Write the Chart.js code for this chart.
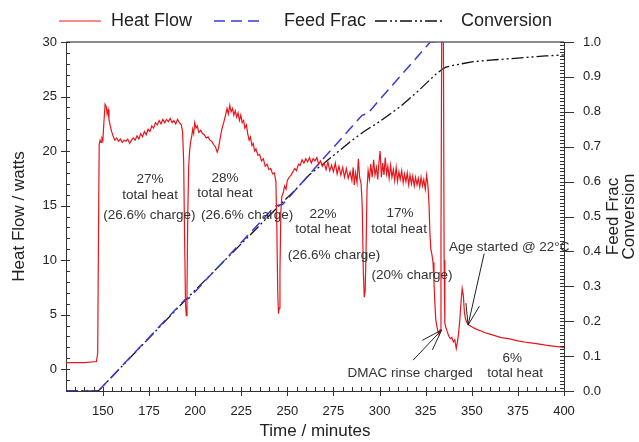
<!DOCTYPE html>
<html>
<head>
<meta charset="utf-8">
<script src="https://cdn.jsdelivr.net/npm/chart.js@4.4.1/dist/chart.umd.min.js"></script>
<style>
html,body{margin:0;padding:0;background:#fff;}
#wrap{width:639px;height:442px;}
</style>
</head>
<body>
<div id="wrap"><canvas id="c" width="639" height="442"></canvas></div>
<script>
// ---------- DATA ----------
const seriesNames = ['Heat Flow', 'Feed Frac', 'Conversion'];
const xTicks = [150, 175, 200, 225, 250, 275, 300, 325, 350, 375, 400];
const yLeftTicks = [0, 5, 10, 15, 20, 25, 30];
const yRightTicks = [0.0, 0.1, 0.2, 0.3, 0.4, 0.5, 0.6, 0.7, 0.8, 0.9, 1.0];

const heatTime = [130,140,146.5,147.2,147.6,148,148.5,149,149.5,150,150.5,151.2,151.8,152.3,152.8,153.3,154,154.7,155.5,156.5,157.5,158.5,159.5,160.5,161.5,162.5,163.5,164.5,165.5,166.5,167.5,168.5,169.5,170.5,171.5,172.5,173.5,174.5,175.5,176.5,177.5,178.5,179.5,180.5,181.5,182.5,183.5,184.5,185.5,186.5,187.5,188.5,189.5,190.5,191.5,192.5,193.2,193.8,194.3,194.8,195.2,195.6,196,196.5,197,197.5,198,198.7,199.2,199.8,200.5,201.2,202,203,204,205,206,207,208,209,210,211,212,212.6,213.5,214.5,215.5,216.5,217.3,218,218.8,219.5,220.3,221,221.8,222.5,223.3,224,224.8,225.5,226.3,227,227.8,228.5,229.3,230,230.8,231.5,232.3,233,234,235,236,237,238,239,240,241,242,243,243.8,244.3,244.8,245.2,245.6,246,246.5,247,247.8,248.5,249.3,250,251,252,253,254,255,256,257,258,259,260,261,262,263,264,265,266,267,268,269,270,271,272,273,274,275,276,277,278,279,280,281,282,283,284,285,285.7,286.3,287,287.8,288.5,289.2,290,290.6,291.2,291.7,292.2,292.7,293.2,293.8,294.5,295.2,296,296.8,297.5,298.3,299,299.7,300.3,301,301.7,302.4,303.1,303.8,304.5,305.2,306,306.7,307.5,308.2,309,309.7,310.5,311.2,312,312.8,313.5,314.3,315,315.8,316.5,317.3,318,318.8,319.5,320.3,321,321.8,322.5,323.3,324,324.8,325.5,326.2,326.8,327.3,327.8,328.4,329,329.5,330,330.5,331,331.6,332.2,332.8,333.3,333.7,334.6,335,335.4,336,336.8,337.6,338.4,339.2,340,340.8,341.6,342.3,342.9,343.5,344.2,344.8,345.4,346,346.6,347.3,348,350,352,355,358,362,366,370,375,380,385,390,395,398,400];
const heatFlow = [0.6,0.6,0.7,1.5,12,20.6,21,20.8,21.2,21,22.5,24.3,24.1,23.4,23.8,22.9,22.3,21.8,21.4,21.0,21.2,20.9,21.1,20.8,21.0,20.9,21.1,20.7,21.0,21.2,21.0,21.4,21.1,21.6,21.3,21.8,21.5,22.0,21.8,22.3,22.1,22.6,22.4,22.8,22.5,22.9,22.6,22.9,22.7,23.0,22.6,22.8,22.5,22.9,22.6,22.4,21.8,19,12,6,4.9,7,14,18.5,20,20.8,21.2,22.0,21.6,22.6,22.1,22.3,21.7,21.9,21.6,21.5,21.2,21.3,21.0,20.9,20.6,20.4,19.9,20.2,21.1,22.0,22.6,23.3,23.9,23.4,24.2,23.6,23.9,23.3,23.7,23.1,23.5,22.8,23.3,22.6,22.8,22.1,22.4,21.6,21.0,21.3,20.5,20.7,20.0,20.2,19.6,19.7,19.1,19.3,18.6,18.8,18.3,18.4,17.9,18.0,17.2,13,7,5.1,5.6,9,14.5,15.8,16.2,16.8,16.5,17.3,17.6,17.8,18.1,18.4,18.2,18.8,18.7,19.2,18.9,19.3,19.0,19.4,18.9,19.3,19.1,19.4,18.8,19.1,18.6,18.9,18.3,19.0,18.2,18.7,18.1,18.9,17.9,18.6,17.8,18.5,17.6,18.4,17.5,18.1,17.3,18.5,16.9,18.0,17.1,19.3,17.6,17.0,15,9,6.6,7.2,11,16.5,18.2,17.4,18.8,17.6,19.2,17.8,18.5,17.4,19.0,20.0,17.6,18.9,17.8,19.4,17.9,18.6,17.5,18.7,17.6,18.3,17.3,18.5,17.2,18.1,17.4,18.2,17.1,17.9,17.2,18.0,16.9,17.8,17.0,17.7,16.8,17.6,16.9,17.5,16.7,17.6,16.8,17.4,16.5,17.8,16.9,15.2,12.5,11.0,10.5,9.8,8.0,6.0,4.5,4.0,3.5,3.2,3.6,12,31,31,10,4.2,3.8,3.4,3.0,2.8,2.9,2.5,2.7,1.9,2.6,3.4,4.5,6.2,7.4,6.8,5.2,4.6,4.3,4.1,3.9,3.7,3.5,3.3,3.1,2.9,2.8,2.6,2.45,2.35,2.2,2.1,2.05,2.0];

const feedTime = [130, 147.5, 194.5, 196.5, 243.5, 247.5, 290.5, 293.5, 327.5, 334.5];
const feedFrac = [0, 0, 0.262, 0.265, 0.53, 0.535, 0.79, 0.795, 1.0, 1.0];

const convTime = [130, 147.5, 195, 245, 255, 262, 269.5, 285, 292, 300, 311, 320, 327, 331, 334, 336, 340, 350, 360, 375, 390, 400];
const conversion = [0, 0, 0.262, 0.528, 0.58, 0.62, 0.651, 0.718, 0.745, 0.772, 0.814, 0.855, 0.89, 0.91, 0.922, 0.928, 0.933, 0.943, 0.948, 0.954, 0.96, 0.963];

// annotation texts anchored in data coordinates (time, heat flow)
const notes = [
  {t: 175.6, v: 17.4, text: '27%'},
  {t: 175.6, v: 15.9, text: 'total heat'},
  {t: 175.2, v: 14.1, text: '(26.6% charge)'},
  {t: 216.2, v: 17.5, text: '28%'},
  {t: 216.2, v: 16.1, text: 'total heat'},
  {t: 228.2, v: 14.1, text: '(26.6% charge)'},
  {t: 269.4, v: 14.2, text: '22%'},
  {t: 269.4, v: 12.8, text: 'total heat'},
  {t: 275.3, v: 10.4, text: '(26.6% charge)'},
  {t: 311.1, v: 14.3, text: '17%'},
  {t: 310.6, v: 12.8, text: 'total heat'},
  {t: 317.6, v: 8.6, text: '(20% charge)'},
  {t: 337.7, v: 11.2, text: 'Age started @ 22°C', align: 'left'},
  {t: 316.6, v: -0.37, text: 'DMAC rinse charged'},
  {t: 371.9, v: 1.0, text: '6%'},
  {t: 373.5, v: -0.37, text: 'total heat'}
];
const arrows = [
  {t0: 356.7, v0: 10.6, t1: 348.0, v1: 4.05},
  {t0: 318.2, v0: 0.83, t1: 333.7, v1: 3.6}
];

// ---------- CHART ----------
const FONT = "'Liberation Sans', Arial, Helvetica, sans-serif";
const TXT = '#222';
const legendSlots = [{x0: 59, x1: 101, tx: 111}, {x0: 214, x1: 264, tx: 284}, {x0: 375, x1: 442, tx: 461}];

const decor = {
  id: 'decor',
  afterDatasetsDraw(chart) {
    const {ctx, chartArea: a, scales} = chart;
    const xs = scales.x, yl = scales.y, yr = scales.y1;
    ctx.save();
    // top frame line
    ctx.strokeStyle = '#666';
    ctx.lineWidth = 1.5;
    ctx.beginPath(); ctx.moveTo(a.left, a.top); ctx.lineTo(a.right, a.top); ctx.stroke();
    ctx.strokeStyle = '#333';
    ctx.lineWidth = 1;
    // x ticks
    for (let v = 130; v <= 400; v += 5) {
      const px = Math.round(xs.getPixelForValue(v)) + 0.5;
      ctx.beginPath();
      if (xTicks.includes(v)) { ctx.moveTo(px, a.bottom - 4); ctx.lineTo(px, a.bottom + 5); }
      else { ctx.moveTo(px, a.bottom); ctx.lineTo(px, a.bottom - 4); }
      ctx.stroke();
    }
    // left ticks
    for (let v = -2; v <= 30; v += 1) {
      const py = Math.round(yl.getPixelForValue(v)) + 0.5;
      ctx.beginPath();
      if (yLeftTicks.includes(v)) { ctx.moveTo(a.left - 5, py); ctx.lineTo(a.left + 4, py); }
      else { ctx.moveTo(a.left, py); ctx.lineTo(a.left + 4, py); }
      ctx.stroke();
    }
    // right ticks
    for (let i = 0; i <= 100; i++) {
      const py = Math.round(yr.getPixelForValue(i / 100)) + 0.5;
      ctx.beginPath();
      if (i % 10 === 0) { ctx.moveTo(a.right - 4, py); ctx.lineTo(a.right + 10, py); }
      else { ctx.moveTo(a.right - 4, py); ctx.lineTo(a.right, py); }
      ctx.stroke();
    }
    // annotations
    ctx.fillStyle = '#333';
    ctx.font = "13.5px " + FONT;
    ctx.textBaseline = 'middle';
    notes.forEach(n => {
      ctx.textAlign = n.align || 'center';
      ctx.fillText(n.text, xs.getPixelForValue(n.t), yl.getPixelForValue(n.v));
    });
    // arrows
    ctx.strokeStyle = '#222';
    ctx.lineWidth = 1;
    arrows.forEach(ar => {
      const x0 = xs.getPixelForValue(ar.t0), y0 = yl.getPixelForValue(ar.v0);
      const x1 = xs.getPixelForValue(ar.t1), y1 = yl.getPixelForValue(ar.v1);
      const ang = Math.atan2(y1 - y0, x1 - x0);
      ctx.beginPath(); ctx.moveTo(x0, y0); ctx.lineTo(x1, y1); ctx.stroke();
      const L = 22, w = 0.32;
      [ang + Math.PI - w, ang + Math.PI + w].forEach(b => {
        ctx.beginPath(); ctx.moveTo(x1, y1);
        ctx.lineTo(x1 + L * Math.cos(b), y1 + L * Math.sin(b)); ctx.stroke();
      });
    });
    // legend
    ctx.font = "18px " + FONT;
    ctx.textAlign = 'left';
    ctx.textBaseline = 'middle';
    chart.data.datasets.forEach((ds, i) => {
      const s = legendSlots[i];
      ctx.strokeStyle = ds.borderColor;
      ctx.lineWidth = ds.borderWidth;
      ctx.setLineDash(ds.borderDash || []);
      ctx.beginPath(); ctx.moveTo(s.x0, 21); ctx.lineTo(s.x1, 21); ctx.stroke();
      ctx.setLineDash([]);
      ctx.fillStyle = TXT;
      ctx.fillText(ds.label, s.tx, 21);
    });
    // right axis title
    ctx.fillStyle = TXT;
    ctx.font = "17px " + FONT;
    ctx.textAlign = 'center';
    ctx.textBaseline = 'middle';
    const cy = (a.top + a.bottom) / 2;
    ctx.translate(613, cy);
    ctx.rotate(-Math.PI / 2);
    ctx.fillText('Feed Frac', 0, 0);
    ctx.fillText('Conversion', 0, 16);
    ctx.restore();
  }
};

const toXY = (xs, ys) => xs.map((x, i) => ({x: x, y: ys[i]}));

new Chart(document.getElementById('c'), {
  type: 'line',
  data: {
    datasets: [
      {label: seriesNames[0], data: toXY(heatTime, heatFlow), yAxisID: 'y',
       borderColor: '#e8161b', backgroundColor: '#e8161b', borderWidth: 1.2, pointRadius: 0, tension: 0},
      {label: seriesNames[1], data: toXY(feedTime, feedFrac), yAxisID: 'y1',
       borderColor: '#3a3ad6', backgroundColor: '#3a3ad6', borderWidth: 1.5, borderDash: [11, 6], pointRadius: 0, tension: 0},
      {label: seriesNames[2], data: toXY(convTime, conversion), yAxisID: 'y1',
       borderColor: '#111', backgroundColor: '#111', borderWidth: 1.3, borderDash: [12, 3, 2, 3, 2, 3], pointRadius: 0, tension: 0}
    ]
  },
  options: {
    responsive: false,
    animation: false,
    layout: {padding: {left: 0, right: 0, top: 42, bottom: 0}},
    plugins: {
      legend: {display: false},
      tooltip: {enabled: false}
    },
    scales: {
      x: {
        type: 'linear', min: 130, max: 400,
        afterBuildTicks: s => { s.ticks = xTicks.map(v => ({value: v})); },
        afterFit: s => { s.height = 51; },
        grid: {drawOnChartArea: false, drawTicks: false},
        border: {display: true, color: '#333', width: 1},
        ticks: {color: TXT, font: {family: FONT, size: 13}, padding: 13, maxRotation: 0},
        title: {display: true, text: 'Time / minutes', color: TXT, font: {family: FONT, size: 17}, padding: {top: 0, bottom: 0}}
      },
      y: {
        type: 'linear', position: 'left', min: -2, max: 30,
        afterBuildTicks: s => { s.ticks = yLeftTicks.map(v => ({value: v})); },
        afterFit: s => { s.width = 66; },
        grid: {drawOnChartArea: false, drawTicks: false},
        border: {display: true, color: '#333', width: 1},
        ticks: {color: TXT, font: {family: FONT, size: 13}, padding: 9},
        title: {display: true, text: 'Heat Flow / watts', color: TXT, font: {family: FONT, size: 17}, padding: {top: 9, bottom: 0}}
      },
      y1: {
        type: 'linear', position: 'right', min: 0, max: 1,
        afterBuildTicks: s => { s.ticks = yRightTicks.map(v => ({value: v})); },
        afterFit: s => { s.width = 75; },
        grid: {drawOnChartArea: false, drawTicks: false},
        border: {display: true, color: '#333', width: 1},
        ticks: {color: TXT, font: {family: FONT, size: 13}, padding: 19, callback: v => v.toFixed(1)}
      }
    }
  },
  plugins: [decor]
});
</script>
</body>
</html>
